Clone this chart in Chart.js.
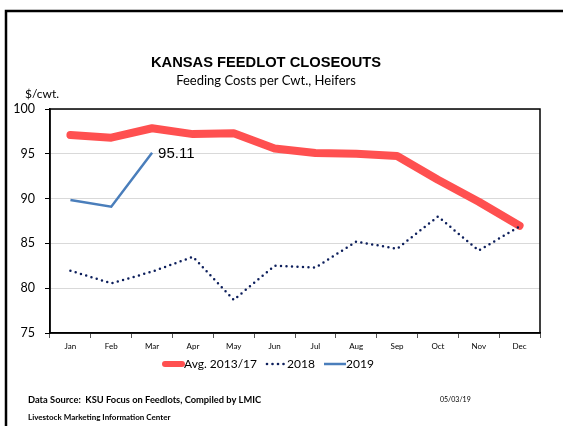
<!DOCTYPE html>
<html>
<head>
<meta charset="utf-8">
<script src="https://cdn.jsdelivr.net/npm/chart.js@4"></script>
<style>
  html, body { margin: 0; padding: 0; background: #fff; }
  #wrap { position: relative; width: 563px; height: 426px; }
</style>
</head>
<body>
<div id="wrap"><canvas id="myChart" width="563" height="426"></canvas></div>
<script>
const months = ['Jan', 'Feb', 'Mar', 'Apr', 'May', 'Jun', 'Jul', 'Aug', 'Sep', 'Oct', 'Nov', 'Dec'];
const avg1317 = [97.1, 96.8, 97.85, 97.2, 97.3, 95.6, 95.1, 95.0, 94.75, 92.1, 89.65, 86.97];
const y2018 = [81.95, 80.55, 81.85, 83.5, 78.7, 82.5, 82.3, 85.2, 84.4, 88.0, 84.2, 86.9];
const y2019 = [89.85, 89.1, 95.11, null, null, null, null, null, null, null, null, null];
const yTicks = [75, 80, 85, 90, 95, 100];

const red = '#ff5050';
const navy = '#0d1f5c';
const blue = '#4a7ebb';
const uiFont = 'Lato, "Open Sans", sans-serif';

const extras = {
    id: 'extras',
    afterDraw(chart) {
        const ctx = chart.ctx;
        const area = chart.chartArea;
        ctx.save();

        // outer frame
        ctx.strokeStyle = '#000';
        ctx.lineWidth = 2.5;
        ctx.strokeRect(6, 11, 620, 460);

        // plot border
        ctx.lineWidth = 1.5;
        ctx.strokeRect(area.left, area.top, area.right - area.left, area.bottom - area.top);

        // titles
        ctx.fillStyle = '#000';
        ctx.textAlign = 'center';
        ctx.textBaseline = 'middle';
        ctx.font = 'bold 14.7px "Liberation Sans", Arial, sans-serif';
        ctx.fillText('KANSAS FEEDLOT CLOSEOUTS', 266, 63);
        ctx.font = '13px ' + uiFont;
        ctx.fillText('Feeding Costs per Cwt., Heifers', 266, 81);

        ctx.textAlign = 'left';
        ctx.font = '12px ' + uiFont;
        ctx.fillText('$/cwt.', 25, 94);

        // data label for the last 2019 point
        const xs = chart.scales.x;
        const ys = chart.scales.y;
        ctx.font = '15px "Liberation Sans", Arial, sans-serif';
        ctx.fillText('95.11', xs.getPixelForValue(2) + 6, ys.getPixelForValue(y2019[2]) + 1);

        // legend
        const ly = 364;
        ctx.font = '12px ' + uiFont;
        ctx.lineCap = 'round';
        ctx.strokeStyle = red;
        ctx.lineWidth = 6;
        ctx.beginPath(); ctx.moveTo(165, ly); ctx.lineTo(182, ly); ctx.stroke();
        ctx.fillText('Avg. 2013/17', 184, ly);
        ctx.fillStyle = navy;
        for (let i = 0; i < 4; i++) {
            ctx.beginPath(); ctx.arc(267 + i * 5.5, ly, 1.3, 0, Math.PI * 2); ctx.fill();
        }
        ctx.fillStyle = '#000';
        ctx.fillText('2018', 287, ly);
        ctx.strokeStyle = blue;
        ctx.lineWidth = 2.5;
        ctx.lineCap = 'butt';
        ctx.beginPath(); ctx.moveTo(324, ly); ctx.lineTo(346, ly); ctx.stroke();
        ctx.fillText('2019', 346, ly);

        // footer
        ctx.font = 'bold 9.3px ' + uiFont;
        ctx.fillText('Data Source:  KSU Focus on Feedlots, Compiled by LMIC', 28, 400);
        ctx.font = 'bold 8px ' + uiFont;
        ctx.fillText('Livestock Marketing Information Center', 28, 417);
        ctx.font = '7px ' + uiFont;
        ctx.fillText('05/03/19', 440, 400);

        ctx.restore();
    }
};

new Chart(document.getElementById('myChart'), {
    type: 'line',
    data: {
        labels: months,
        datasets: [
            {
                label: 'Avg. 2013/17',
                data: avg1317,
                borderColor: red,
                borderWidth: 8,
                borderCapStyle: 'round',
                borderJoinStyle: 'round',
                pointRadius: 0,
                tension: 0,
                order: 3
            },
            {
                label: '2018',
                data: y2018,
                borderColor: navy,
                borderWidth: 2.5,
                borderDash: [0, 5.5],
                borderCapStyle: 'round',
                pointRadius: 0,
                tension: 0,
                order: 2
            },
            {
                label: '2019',
                data: y2019,
                borderColor: blue,
                borderWidth: 2.5,
                pointRadius: 0,
                tension: 0,
                spanGaps: false,
                order: 1
            }
        ]
    },
    options: {
        responsive: false,
        animation: false,
        layout: { padding: { left: 8, right: 23, top: 109, bottom: 67 } },
        plugins: {
            legend: { display: false },
            title: { display: false },
            tooltip: { enabled: false }
        },
        scales: {
            x: {
                offset: true,
                grid: {
                    offset: true,
                    drawOnChartArea: false,
                    drawTicks: true,
                    tickLength: 5,
                    tickColor: '#555'
                },
                border: { display: true, color: '#000', width: 1.5 },
                ticks: {
                    color: '#000',
                    font: { family: uiFont, size: 8 },
                    padding: 4,
                    maxRotation: 0
                },
                afterFit(axis) { axis.height = 26; }
            },
            y: {
                min: 75,
                max: 100,
                afterBuildTicks(axis) { axis.ticks = yTicks.map(v => ({ value: v })); },
                grid: {
                    color: '#d9d9d9',
                    lineWidth: 1,
                    drawTicks: true,
                    tickLength: 5,
                    tickColor: '#000'
                },
                border: { display: true, color: '#000', width: 1.5 },
                ticks: {
                    color: '#000',
                    font: { family: uiFont, size: 12.5 },
                    padding: 10
                },
                afterFit(axis) { axis.width = 42; }
            }
        }
    },
    plugins: [extras]
});
</script>
</body>
</html>
